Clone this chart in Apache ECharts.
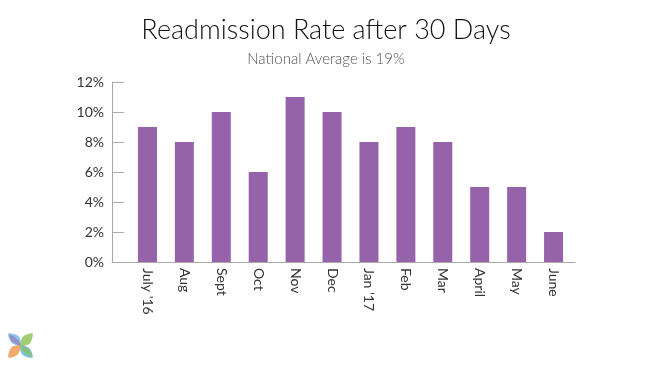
<!DOCTYPE html>
<html><head><meta charset="utf-8">
<style>html,body{margin:0;padding:0;background:#fff}#c{width:650px;height:366px}</style>
<script src="https://cdn.jsdelivr.net/npm/echarts@6/dist/echarts.min.js"></script>
</head><body><div id="c"></div>
<script>
const categories = ["July '16","Aug","Sept","Oct","Nov","Dec","Jan '17","Feb","Mar","April","May","June"];
const rates = [9,8,10,6,11,10,8,9,8,5,5,2];
const yTicks = [0,2,4,6,8,10,12];
const chart = echarts.init(document.getElementById('c'), null, {renderer:'canvas'});
const leaf = (rot, color, pts) => ({
  type:'polygon', x:20.5, y:345.5, rotation:rot, silent:true,
  shape:{points:pts,smooth:0.35},
  style:{fill:color, opacity:0.8}
});
const outer = [[0,0],[-1,-8],[-5,-11],[-12,-12],[-11,-6],[-8,-2]];
const inner = [[0,0],[-3,-6],[-11,-11],[-9,-5],[-5,-2]];
chart.setOption({
  animation:false,
  backgroundColor:'#fff',
  title:[
    {text:'Readmission Rate after 30 Days',left:321,top:12,textAlign:'center',
     textStyle:{fontFamily:'Lato',fontWeight:300,fontSize:27,color:'#111'}},
    {text:'National Average is 19%',left:321,top:47,textAlign:'center',
     textStyle:{fontFamily:'Lato',fontWeight:300,fontSize:15,color:'#555'}}
  ],
  grid:[
    {left:112,right:75,top:82,height:180},
    {left:129,right:78,top:82,height:180}
  ],
  xAxis:[
    {type:'value',gridIndex:0,min:0,max:1,axisLine:{show:true,onZero:false,lineStyle:{color:'#a9a9a9',width:1}},
     axisTick:{show:false},axisLabel:{show:false},splitLine:{show:false}},
    {type:'category',gridIndex:1,data:categories,axisLine:{show:false},axisTick:{show:false},
     axisLabel:{rotate:-90,margin:6,interval:0,fontFamily:'Lato',fontSize:14,color:'#333',fontWeight:400}}
  ],
  yAxis:[
    {type:'value',gridIndex:0,min:yTicks[0],max:yTicks[yTicks.length-1],interval:2,
     axisLine:{show:true,lineStyle:{color:'#a9a9a9',width:1}},
     axisTick:{show:true,inside:true,length:12,lineStyle:{color:'#a9a9a9',width:1}},
     axisLabel:{margin:8,formatter:'{value}%',fontFamily:'Lato',fontSize:14,color:'#333',padding:[0,0,2,0]},
     splitLine:{show:false}},
    {type:'value',gridIndex:1,min:yTicks[0],max:yTicks[yTicks.length-1],interval:2,show:false}
  ],
  series:[{type:'bar',xAxisIndex:1,yAxisIndex:1,data:rates,barWidth:19,
    itemStyle:{color:'#9663ab'}}],
  graphic:[
    leaf(0,'#6db6e6',outer),leaf(0,'#9b7fc0',inner),
    leaf(-Math.PI/2,'#8cc152',outer),
    leaf(Math.PI/2,'#f0954a',outer),
    leaf(Math.PI,'#5cb3dc',outer),leaf(Math.PI,'#8cc152',inner)
  ]
});
</script></body></html>
